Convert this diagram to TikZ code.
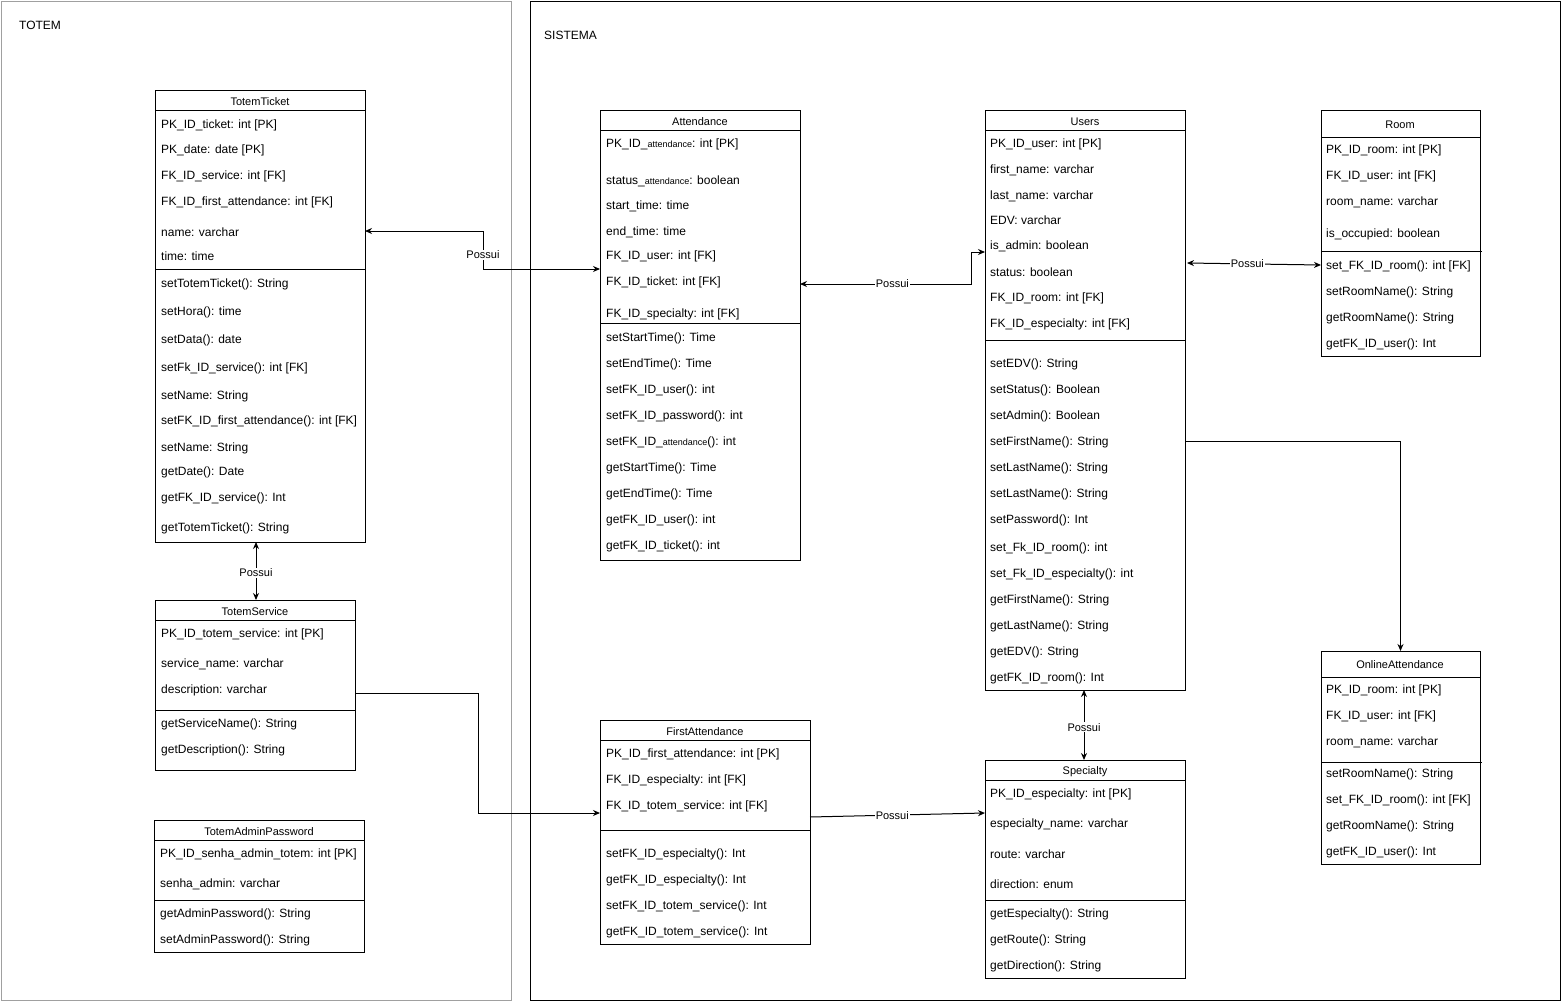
\documentclass[tikz,border=0pt]{standalone}
\usepackage{fontspec}
\setmainfont{Liberation Sans}
\usetikzlibrary{calc,arrows.meta}
\definecolor{framegray}{RGB}{160,160,160}
\newcommand{\sm}[1]{{\fontsize{9}{10}\selectfont #1}}
\tikzset{
  cls/.style={draw=black, line width=1pt, fill=white, anchor=north west, inner sep=0pt, outer sep=0pt},
  attr/.style={anchor=west, inner sep=0pt, yshift=-1.5pt, font=\fontsize{12}{14}\selectfont},
  ttl/.style={anchor=center, inner sep=0pt, yshift=-1pt, font=\fontsize{11}{13}\selectfont},
  sep/.style={line width=1pt, draw=black},
  conn/.style={line width=1pt, draw=black},
  both/.style={conn, arrows={Stealth[length=7pt,width=6pt]-Stealth[length=7pt,width=6pt]}},
  one/.style={conn, arrows={-Stealth[length=7pt,width=6pt]}},
  lbl/.style={fill=white, inner sep=1pt, font=\fontsize{11}{13}\selectfont},
  frametxt/.style={anchor=west, inner sep=0pt, yshift=-1pt, font=\fontsize{12}{14}\selectfont},
}
\begin{document}
\begin{tikzpicture}[x=1pt,y=-1pt]
\useasboundingbox[fill=white] (0,0) rectangle (1561,1001);

% frames
\node[draw=framegray, line width=1pt, anchor=north west, minimum width=510, minimum height=999, inner sep=0pt] (totem) at (0.5,0.5) {};
\node[frametxt] (totemlbl) at (19,24) {TOTEM};
\node[draw=black, line width=1pt, anchor=north west, minimum width=1030, minimum height=999, inner sep=0pt] (sistema) at (530,0.5) {};
\node[frametxt] (sistemalbl) at (544,34) {SISTEMA};

% ---------------- TotemTicket
\node[cls, minimum width=210, minimum height=452] (tt) at (155,90) {};
\node[ttl] (tt-t) at (260,101) {TotemTicket};
\draw[sep] ($(tt.north west)+(0,20)$) -- ($(tt.north east)+(0,20)$);
\draw[sep] ($(tt.north west)+(0,179)$) -- ($(tt.north east)+(0,179)$);
\node[attr] (tt1) at (161,124) {PK\_ID\_ticket: int [PK]};
\node[attr] (tt2) at (161,149) {PK\_date: date [PK]};
\node[attr] (tt3) at (161,175) {FK\_ID\_service: int [FK]};
\node[attr] (tt4) at (161,201) {FK\_ID\_first\_attendance: int [FK]};
\node[attr] (tt5) at (161,231) {name: varchar};
\node[attr] (tt6) at (161,255) {time: time};
\node[attr] (tt7) at (161,283) {setTotemTicket(): String};
\node[attr] (tt8) at (161,311) {setHora(): time};
\node[attr] (tt9) at (161,339) {setData(): date};
\node[attr] (tt10) at (161,367) {setFk\_ID\_service(): int [FK]};
\node[attr] (tt11) at (161,395) {setName: String};
\node[attr] (tt12) at (161,420) {setFK\_ID\_first\_attendance(): int [FK]};
\node[attr] (tt13) at (161,447) {setName: String};
\node[attr] (tt14) at (161,471) {getDate(): Date};
\node[attr] (tt15) at (161,497) {getFK\_ID\_service(): Int};
\node[attr] (tt16) at (161,527) {getTotemTicket(): String};

% ---------------- TotemService
\node[cls, minimum width=200, minimum height=170] (ts) at (155,600) {};
\node[ttl] (ts-t) at (255,611) {TotemService};
\draw[sep] ($(ts.north west)+(0,20)$) -- ($(ts.north east)+(0,20)$);
\draw[sep] ($(ts.north west)+(0,110)$) -- ($(ts.north east)+(0,110)$);
\node[attr] (ts1) at (161,633) {PK\_ID\_totem\_service: int [PK]};
\node[attr] (ts2) at (161,663) {service\_name: varchar};
\node[attr] (ts3) at (161,689) {description: varchar};
\node[attr] (ts4) at (161,723) {getServiceName(): String};
\node[attr] (ts5) at (161,749) {getDescription(): String};

% ---------------- TotemAdminPassword
\node[cls, minimum width=210, minimum height=132] (tap) at (154,820) {};
\node[ttl] (tap-t) at (259,831) {TotemAdminPassword};
\draw[sep] ($(tap.north west)+(0,20)$) -- ($(tap.north east)+(0,20)$);
\draw[sep] ($(tap.north west)+(0,80)$) -- ($(tap.north east)+(0,80)$);
\node[attr] (tap1) at (160,853) {PK\_ID\_senha\_admin\_totem: int [PK]};
\node[attr] (tap2) at (160,883) {senha\_admin: varchar};
\node[attr] (tap3) at (160,913) {getAdminPassword(): String};
\node[attr] (tap4) at (160,939) {setAdminPassword(): String};

% ---------------- Attendance
\node[cls, minimum width=200, minimum height=450] (at) at (600,110) {};
\node[ttl] (at-t) at (700,121) {Attendance};
\draw[sep] ($(at.north west)+(0,20)$) -- ($(at.north east)+(0,20)$);
\draw[sep] ($(at.north west)+(0,213)$) -- ($(at.north east)+(0,213)$);
\node[attr] (at1) at (606,143) {PK\_ID\_\sm{attendance}: int [PK]};
\node[attr] (at2) at (606,180) {status\_\sm{attendance}: boolean};
\node[attr] (at3) at (606,205) {start\_time: time};
\node[attr] (at4) at (606,231) {end\_time: time};
\node[attr] (at5) at (606,255) {FK\_ID\_user: int [FK]};
\node[attr] (at6) at (606,281) {FK\_ID\_ticket: int [FK]};
\node[attr] (at7) at (606,313) {FK\_ID\_specialty: int [FK]};
\node[attr] (at8) at (606,337) {setStartTime(): Time};
\node[attr] (at9) at (606,363) {setEndTime(): Time};
\node[attr] (at10) at (606,389) {setFK\_ID\_user(): int};
\node[attr] (at11) at (606,415) {setFK\_ID\_password(): int};
\node[attr] (at12) at (606,441) {setFK\_ID\_\sm{attendance}(): int};
\node[attr] (at13) at (606,467) {getStartTime(): Time};
\node[attr] (at14) at (606,493) {getEndTime(): Time};
\node[attr] (at15) at (606,519) {getFK\_ID\_user(): int};
\node[attr] (at16) at (606,545) {getFK\_ID\_ticket(): int};

% ---------------- FirstAttendance
\node[cls, minimum width=210, minimum height=224] (fa) at (600,720) {};
\node[ttl] (fa-t) at (705,731) {FirstAttendance};
\draw[sep] ($(fa.north west)+(0,20)$) -- ($(fa.north east)+(0,20)$);
\draw[sep] ($(fa.north west)+(0,110)$) -- ($(fa.north east)+(0,110)$);
\node[attr] (fa1) at (606,753) {PK\_ID\_first\_attendance: int [PK]};
\node[attr] (fa2) at (606,779) {FK\_ID\_especialty: int [FK]};
\node[attr] (fa3) at (606,805) {FK\_ID\_totem\_service: int [FK]};
\node[attr] (fa4) at (606,853) {setFK\_ID\_especialty(): Int};
\node[attr] (fa5) at (606,879) {getFK\_ID\_especialty(): Int};
\node[attr] (fa6) at (606,905) {setFK\_ID\_totem\_service(): Int};
\node[attr] (fa7) at (606,931) {getFK\_ID\_totem\_service(): Int};

% ---------------- Users
\node[cls, minimum width=200, minimum height=580] (us) at (985,110) {};
\node[ttl] (us-t) at (1085,121) {Users};
\draw[sep] ($(us.north west)+(0,20)$) -- ($(us.north east)+(0,20)$);
\draw[sep] ($(us.north west)+(0,230)$) -- ($(us.north east)+(0,230)$);
\node[attr] (us1) at (990,143) {PK\_ID\_user: int [PK]};
\node[attr] (us2) at (990,169) {first\_name: varchar};
\node[attr] (us3) at (990,195) {last\_name: varchar};
\node[attr] (us4) at (990,219) {EDV: varchar};
\node[attr] (us5) at (990,245) {is\_admin: boolean};
\node[attr] (us6) at (990,271) {status: boolean};
\node[attr] (us7) at (990,297) {FK\_ID\_room: int [FK]};
\node[attr] (us8) at (990,323) {FK\_ID\_especialty: int [FK]};
\node[attr] (us9) at (990,363) {setEDV(): String};
\node[attr] (us10) at (990,389) {setStatus(): Boolean};
\node[attr] (us11) at (990,415) {setAdmin(): Boolean};
\node[attr] (us12) at (990,441) {setFirstName(): String};
\node[attr] (us13) at (990,467) {setLastName(): String};
\node[attr] (us14) at (990,493) {setLastName(): String};
\node[attr] (us15) at (990,519) {setPassword(): Int};
\node[attr] (us16) at (990,547) {set\_Fk\_ID\_room(): int};
\node[attr] (us17) at (990,573) {set\_Fk\_ID\_especialty(): int};
\node[attr] (us18) at (990,599) {getFirstName(): String};
\node[attr] (us19) at (990,625) {getLastName(): String};
\node[attr] (us20) at (990,651) {getEDV(): String};
\node[attr] (us21) at (990,677) {getFK\_ID\_room(): Int};

% ---------------- Specialty
\node[cls, minimum width=200, minimum height=218] (sp) at (985,760) {};
\node[ttl] (sp-t) at (1085,771) {Specialty};
\draw[sep] ($(sp.north west)+(0,20)$) -- ($(sp.north east)+(0,20)$);
\draw[sep] ($(sp.north west)+(0,140)$) -- ($(sp.north east)+(0,140)$);
\node[attr] (sp1) at (990,793) {PK\_ID\_especialty: int [PK]};
\node[attr] (sp2) at (990,823) {especialty\_name: varchar};
\node[attr] (sp3) at (990,853) {route: varchar};
\node[attr] (sp4) at (990,883) {direction: enum};
\node[attr] (sp5) at (990,913) {getEspecialty(): String};
\node[attr] (sp6) at (990,939) {getRoute(): String};
\node[attr] (sp7) at (990,965) {getDirection(): String};

% ---------------- Room
\node[cls, minimum width=159, minimum height=246] (rm) at (1321,110) {};
\node[ttl] (rm-t) at (1400,124) {Room};
\draw[sep] ($(rm.north west)+(0,27)$) -- ($(rm.north east)+(0,27)$);
\draw[sep] ($(rm.north west)+(0,141)$) -- ($(rm.north east)+(2,141)$);
\node[attr] (rm1) at (1326,149) {PK\_ID\_room: int [PK]};
\node[attr] (rm2) at (1326,175) {FK\_ID\_user: int [FK]};
\node[attr] (rm3) at (1326,201) {room\_name: varchar};
\node[attr] (rm4) at (1326,233) {is\_occupied: boolean};
\node[attr] (rm5) at (1326,265) {set\_FK\_ID\_room(): int [FK]};
\node[attr] (rm6) at (1326,291) {setRoomName(): String};
\node[attr] (rm7) at (1326,317) {getRoomName(): String};
\node[attr] (rm8) at (1326,343) {getFK\_ID\_user(): Int};

% ---------------- OnlineAttendance
\node[cls, minimum width=159, minimum height=213] (oa) at (1321,651) {};
\node[ttl] (oa-t) at (1400,664) {OnlineAttendance};
\draw[sep] ($(oa.north west)+(0,26)$) -- ($(oa.north east)+(0,26)$);
\draw[sep] ($(oa.north west)+(0,111)$) -- ($(oa.north east)+(2,111)$);
\node[attr] (oa1) at (1326,689) {PK\_ID\_room: int [PK]};
\node[attr] (oa2) at (1326,715) {FK\_ID\_user: int [FK]};
\node[attr] (oa3) at (1326,741) {room\_name: varchar};
\node[attr] (oa4) at (1326,773) {setRoomName(): String};
\node[attr] (oa5) at (1326,799) {set\_FK\_ID\_room(): int [FK]};
\node[attr] (oa6) at (1326,825) {getRoomName(): String};
\node[attr] (oa7) at (1326,851) {getFK\_ID\_user(): Int};

% ---------------- connectors
\draw[both] ($(tt.north east)+(0,141)$) -- ++(118,0) |- node[lbl,pos=0.31]{Possui} ($(at.north west)+(0,159)$);
\draw[both] ($(at.north east)+(0,174)$) -- node[lbl,pos=0.54]{Possui} ++(171,0) |- ($(us.north west)+(0,142)$);
\draw[both] ($(us.north east)+(2,153)$) -- node[lbl,pos=0.45]{Possui} ($(rm.north west)+(0,155)$);
\draw[one] ($(us.north east)+(0,331)$) -| (oa.north);
\draw[both] ($(tt.south west)+(101,0)$) -- node[lbl,pos=0.53]{Possui} ($(ts.north west)+(101,0)$);
\draw[one] ($(ts.north east)+(0,93)$) -- ++(123,0) |- ($(fa.north west)+(0,93)$);
\draw[one] ($(fa.north east)+(0,97)$) -- node[lbl,pos=0.47]{Possui} ($(sp.north west)+(0,53)$);
\draw[both] ($(us.south west)+(99,0)$) -- node[lbl,pos=0.53]{Possui} ($(sp.north west)+(99,0)$);
\end{tikzpicture}
\end{document}
